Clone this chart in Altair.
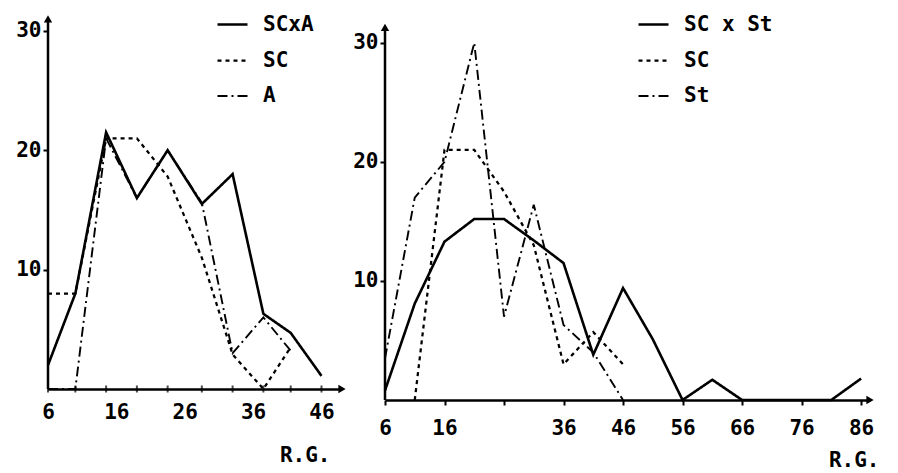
import altair as alt
import pandas as pd

FONT = "DejaVu Sans Mono"

# ---------------- Left panel (SC x A) ----------------
left_x = [6, 10, 14.5, 19, 23.5, 28.5, 33, 37.5, 41.5, 46]
left_scxa = [2, 8, 21.5, 16, 20, 15.5, 18, 6.3, 4.7, 1.1]
left_sc = [8, 8, 21, 21, 17.8, 11, 2.9, 0, 3.5, None]
left_a = [0, 0, 21, 16, 20, 15.6, 3, 6, 3.2, None]
left_series = ["SCxA", "SC", "A"]
left_ticklabels = [6, 16, 26, 36, 46]
left_xmax = 49
left_ymax = 31.5
left_ytop = 31

# ---------------- Right panel (SC x St) ----------------
right_x = [6, 11, 16, 21, 26, 31, 36, 41, 46, 51, 56, 61, 66, 71, 76, 81, 86]
right_scxst = [0.8, 8.1, 13.3, 15.2, 15.2, 13.4, 11.5, 3.8, 9.4, 5.1, 0, 1.7, 0, 0, 0, 0, 1.8]
right_sc = [None, 0, 21, 21, 17.5, 13, 3, 5.7, 3, None, None, None, None, None, None, None, None]
right_st = [3.5, 17, 20, 30, 7, 16.4, 6.3, 4, 0, None, None, None, None, None, None, None, None]
right_series = ["SC x St", "SC", "St"]
right_ticklabels = [6, 16, 36, 46, 56, 66, 76, 86]
right_xmax = 87.5
right_ymax = 32.5
right_ytop = 31.3

y_ticks = [10, 20, 30]


def long_df(xs, series_names, series_values):
    rows = []
    for name, vals in zip(series_names, series_values):
        for i, (xv, yv) in enumerate(zip(xs, vals)):
            if yv is not None:
                rows.append({"x": xv, "y": yv, "series": name, "order": i})
    return pd.DataFrame(rows)


def panel(df, names, xs, xmax, ymax, ytop, tick_values, label_values, width, height,
          legend_x, legend_y, title_x, title_y, tick_layer, label_pad):
    xscale = alt.Scale(domain=[6, xmax], nice=False, zero=False)
    yscale = alt.Scale(domain=[0, ymax], nice=False)
    label_list = ",".join(str(v) for v in label_values)
    xaxis = alt.Axis(
        values=tick_values,
        labelExpr=f"indexof([{label_list}], datum.value) >= 0 ? datum.label : ''",
        title="R.G.", titleFont=FONT, titleFontSize=21, titleFontWeight="bold",
        titleAnchor="end", titleAlign="right", titleBaseline="alphabetic",
        titleX=title_x, titleY=title_y,
        labelFont=FONT, labelFontSize=21, labelFontWeight="bold", labelColor="black",
        labelPadding=label_pad, labelOverlap=False, labelFlush=False,
        domainColor="black", domainWidth=2.5,
        ticks=not tick_layer, tickColor="black", tickSize=5, tickWidth=2,
        grid=False,
    )
    yaxis = alt.Axis(
        values=y_ticks, title=None, domain=False,
        labelFont=FONT, labelFontSize=21, labelFontWeight="bold", labelColor="black",
        labelPadding=2, tickColor="black", tickSize=5, tickWidth=2, grid=False,
    )
    dash = alt.Scale(domain=names, range=[[1, 0], [4, 4], [10, 4, 2, 4]])
    widths = alt.Scale(domain=names, range=[2.6, 1.9, 1.9])

    lines = alt.Chart(df).mark_line(color="black", strokeCap="butt", strokeJoin="miter").encode(
        x=alt.X("x:Q", scale=xscale, axis=xaxis),
        y=alt.Y("y:Q", scale=yscale, axis=yaxis),
        detail="series:N",
        order="order:Q",
        strokeDash=alt.StrokeDash(
            "series:N", scale=dash, sort=names,
            legend=alt.Legend(
                title=None, orient="none", legendX=legend_x, legendY=legend_y,
                labelFont=FONT, labelFontSize=21, labelFontWeight="bold", labelColor="black",
                symbolType="stroke", symbolSize=900, symbolStrokeWidth=2,
                symbolStrokeColor="black", rowPadding=9, labelOffset=14,
            ),
        ),
        strokeWidth=alt.StrokeWidth("series:N", scale=widths, legend=None),
    )

    axis_df = pd.DataFrame({"x": [6], "y": [0], "y2": [ytop]})
    yline = alt.Chart(axis_df).mark_rule(color="black", strokeWidth=2.5).encode(
        x=alt.X("x:Q", scale=xscale), y=alt.Y("y:Q", scale=yscale), y2="y2:Q"
    )
    up_df = pd.DataFrame({"x": [6], "y": [ytop]})
    up = alt.Chart(up_df).mark_point(shape="triangle-up", filled=True, size=70, color="black", opacity=1).encode(
        x=alt.X("x:Q", scale=xscale), y=alt.Y("y:Q", scale=yscale)
    )
    right_df = pd.DataFrame({"x": [xmax], "y": [0]})
    rt = alt.Chart(right_df).mark_point(shape="triangle-right", filled=True, size=70, color="black", opacity=1).encode(
        x=alt.X("x:Q", scale=xscale), y=alt.Y("y:Q", scale=yscale)
    )
    layers = [lines, yline, up, rt]
    if tick_layer:
        tdf = pd.DataFrame({"x": xs, "y": [0] * len(xs)})
        ticks = alt.Chart(tdf).mark_tick(color="black", thickness=2, size=7, orient="vertical").encode(
            x=alt.X("x:Q", scale=xscale), y=alt.Y("y:Q", scale=yscale)
        )
        layers.append(ticks)
    return alt.layer(*layers).properties(width=width, height=height)


left_df = long_df(left_x, left_series, [left_scxa, left_sc, left_a])
right_df_ = long_df(right_x, right_series, [right_scxst, right_sc, right_st])

left = panel(left_df, left_series, left_x, left_xmax, left_ymax, left_ytop,
             left_ticklabels, left_ticklabels, 294, 376,
             legend_x=168, legend_y=-5, title_x=282, title_y=72, tick_layer=True, label_pad=12)
right = panel(right_df_, right_series, right_x, right_xmax, right_ymax, right_ytop,
              right_x, right_ticklabels, 485, 387,
              legend_x=252, legend_y=-5, title_x=494, title_y=66, tick_layer=False, label_pad=12)

chart = alt.hconcat(left, right, spacing=6).resolve_scale(
    x="independent", y="independent", strokeDash="independent", strokeWidth="independent"
).properties(
    padding={"left": 7, "top": 0, "right": 0, "bottom": 0}, background="white"
).configure_view(stroke=None)

chart.save("out.html", embed_options={"renderer": "svg", "actions": False})
